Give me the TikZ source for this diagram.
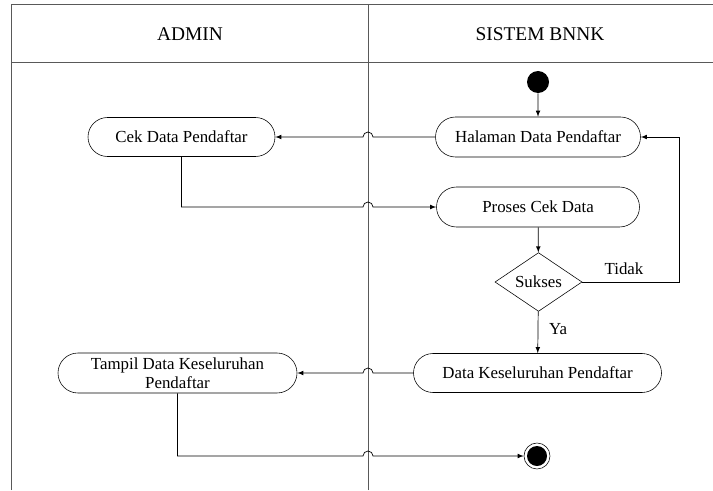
\documentclass[tikz,border=0pt]{standalone}
\usepackage{fontspec}
\setmainfont{Liberation Serif}
\usetikzlibrary{shapes.misc,shapes.geometric,arrows}
\begin{document}
\begin{tikzpicture}[x=0.25mm, y=0.25mm,
every node/.style={font=\fontsize{12}{13.5}\selectfont},
act/.style={rounded rectangle,draw,inner sep=0pt,minimum height=10mm,align=center},
decis/.style={diamond,draw,inner sep=0pt,minimum width=21.75mm,minimum height=11.25mm},
lane/.style={draw=black!65,line width=0.6pt},
arr/.style={-latex,line width=0.5pt},
]
\useasboundingbox (0,0) rectangle (713,490);
% swimlanes
\draw[lane] (11,0) -- (11,486) -- (713,486);
\draw[lane] (11,428) -- (713,428);
\draw[lane] (368,0) -- (368,486);
\node[font=\fontsize{13.8}{15}\selectfont] (admin) at (190,456) {ADMIN};
\node[font=\fontsize{13.8}{15}\selectfont] (sistem) at (540,456) {SISTEM BNNK};
% activities
\node [circle,fill,inner sep=0pt,minimum size=5.5mm] (start) at (538,408) {};
\node [act,minimum width=51.25mm] (hal) at (538,353) {Halaman Data Pendaftar};
\node [act,minimum width=46.75mm,minimum height=9.75mm] (cek) at (181.5,353) {Cek Data Pendaftar};
\node [act,minimum width=50.75mm] (pro) at (538,283) {Proses Cek Data};
\node [decis] (suk) at (538.5,208) {Sukses};
\node [act,minimum width=62mm,minimum height=9.75mm] (kes) at (537.5,117) {Data Keseluruhan Pendaftar};
\node [act,minimum width=59.75mm] (tam) at (177.5,117) {Tampil Data Keseluruhan\\Pendaftar};
\node [circle,draw,inner sep=0pt,minimum size=6.5mm,
	path picture={\fill (path picture bounding box.center) circle (2.5mm);}] (fin) at (537,34) {};
\coordinate (tback) at (679,208);
% flows
\draw[arr] (start) -- (hal);
\draw[arr] (hal.west) -- (373,353) arc[start angle=0,end angle=180,radius=5] -- (cek.east);
\draw[arr] (cek.south) |- (363,283) arc[start angle=180,end angle=0,radius=5] -- (pro.west);
\draw[arr] (pro) -- (suk);
\draw[arr] (suk.east) -- (tback) |- (hal.east);
\node (tidak) at (624,221) {Tidak};
\draw[arr] (suk) -- (kes);
\node (ya) at (558,161) {Ya};
\draw[arr] (kes.west) -- (373,117) arc[start angle=0,end angle=180,radius=5] -- (tam.east);
\draw[arr] (tam.south) |- (363,34) arc[start angle=180,end angle=0,radius=5] -- (fin.west);
\end{tikzpicture}
\end{document}
